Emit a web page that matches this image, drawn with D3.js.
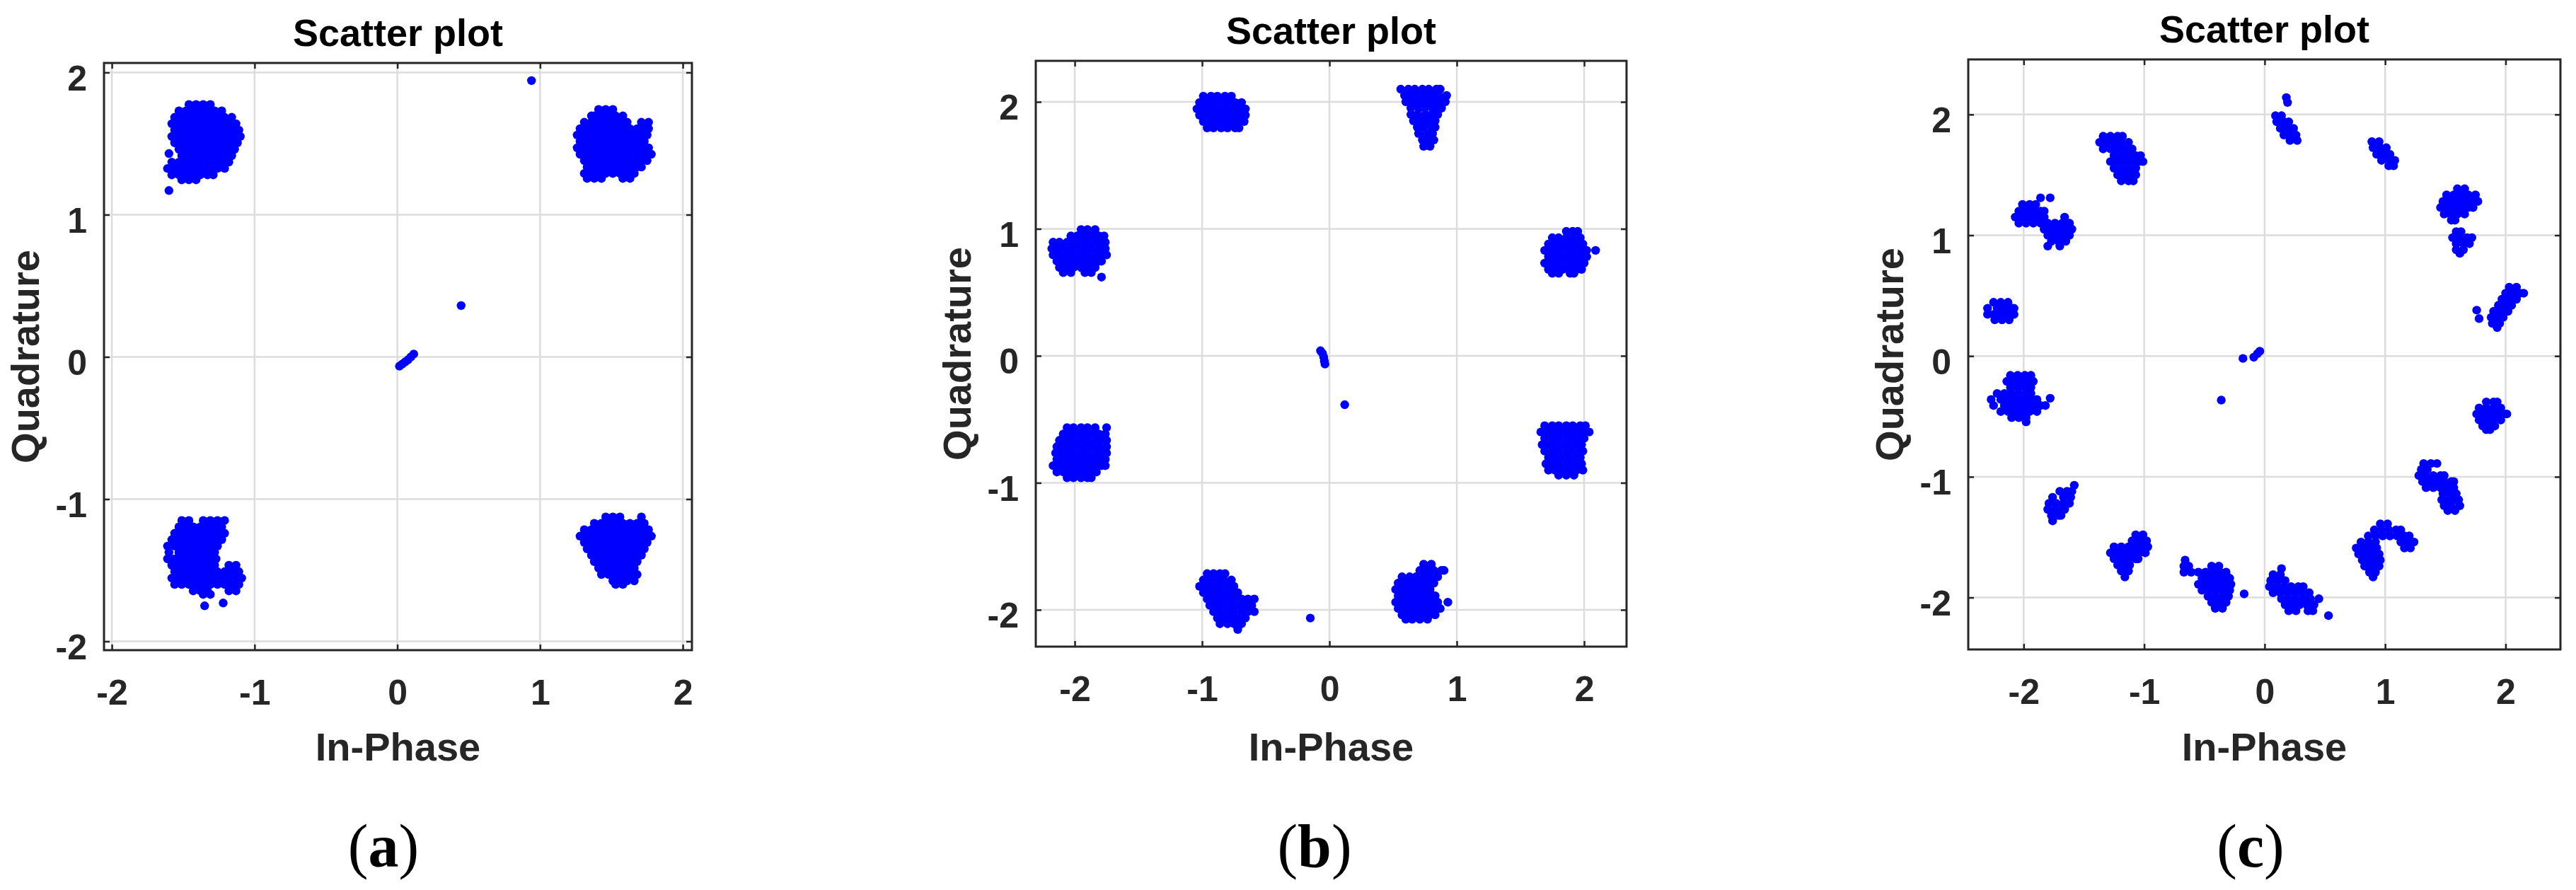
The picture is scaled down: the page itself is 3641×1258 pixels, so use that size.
<!DOCTYPE html>
<html>
<head>
<meta charset="utf-8">
<script src="https://cdn.jsdelivr.net/npm/d3@7"></script>
<style>
  body { margin: 0; background: #fff; }
  svg { display: block; }
</style>
</head>
<body>
<script>
// Constellation scatter plots, three panels.
// Each cluster string: one row per line, "y: x x x ...".

const tick_values = [-2, -1, 0, 1, 2];

// axis limits
const limits_a = {x: [-2.055, 2.064], y: [-2.062, 2.067]};
const limits_b = {x: [-2.306, 2.333], y: [-2.29, 2.323]};
const limits_c = {x: [-2.46, 2.455], y: [-2.43, 2.456]};

const points_a = [
`1.775: -1.46 -1.41 -1.36 -1.31
1.73: -1.53 -1.48 -1.43 -1.38 -1.33 -1.28 -1.23
1.685: -1.56 -1.51 -1.46 -1.41 -1.36 -1.31 -1.26 -1.21 -1.16
1.64: -1.58 -1.53 -1.48 -1.43 -1.38 -1.33 -1.28 -1.23 -1.18 -1.13
1.595: -1.56 -1.51 -1.46 -1.41 -1.36 -1.31 -1.26 -1.21 -1.16 -1.11
1.55: -1.58 -1.53 -1.48 -1.43 -1.38 -1.33 -1.28 -1.23 -1.18 -1.13 -1.10
1.505: -1.56 -1.51 -1.46 -1.41 -1.36 -1.31 -1.26 -1.21 -1.16 -1.12
1.46: -1.53 -1.48 -1.43 -1.38 -1.33 -1.28 -1.23 -1.18 -1.14
1.43: -1.60
1.415: -1.51 -1.46 -1.41 -1.36 -1.31 -1.26 -1.21 -1.16
1.37: -1.58 -1.53 -1.48 -1.43 -1.38 -1.33 -1.28 -1.23 -1.18
1.325: -1.61 -1.56 -1.51 -1.46 -1.41 -1.36 -1.31 -1.26 -1.21
1.28: -1.58 -1.53 -1.48 -1.43 -1.38 -1.33 -1.29
1.245: -1.51 -1.46 -1.41
1.17: -1.60`,
`1.74: 1.41 1.46 1.51
1.695: 1.36 1.38 1.43 1.48 1.53 1.58
1.65: 1.31 1.36 1.41 1.46 1.51 1.56 1.61 1.71 1.76
1.605: 1.28 1.33 1.38 1.43 1.48 1.53 1.58 1.63 1.68 1.73 1.76
1.56: 1.26 1.31 1.36 1.41 1.46 1.51 1.56 1.61 1.66 1.71 1.75
1.515: 1.28 1.33 1.38 1.43 1.48 1.53 1.58 1.63 1.68 1.73
1.47: 1.26 1.31 1.36 1.41 1.46 1.51 1.56 1.61 1.66 1.71 1.76
1.425: 1.28 1.33 1.38 1.43 1.48 1.53 1.58 1.63 1.68 1.73 1.78
1.38: 1.31 1.36 1.41 1.46 1.51 1.56 1.61 1.66 1.71 1.75
1.335: 1.33 1.38 1.43 1.48 1.53 1.58 1.63 1.68 1.71
1.29: 1.31 1.36 1.41 1.46 1.51 1.56 1.61 1.66
1.255: 1.33 1.38 1.43 1.58 1.63`,
`-1.15: -1.51 -1.46 -1.36 -1.31 -1.26 -1.21
-1.195: -1.53 -1.48 -1.43 -1.38 -1.33 -1.28 -1.23
-1.24: -1.56 -1.51 -1.46 -1.41 -1.36 -1.31 -1.26 -1.21
-1.285: -1.58 -1.53 -1.48 -1.43 -1.38 -1.33 -1.28 -1.23
-1.33: -1.61 -1.56 -1.51 -1.46 -1.41 -1.36 -1.31 -1.26
-1.375: -1.60 -1.53 -1.48 -1.43 -1.38 -1.33 -1.28
-1.42: -1.61 -1.56 -1.51 -1.46 -1.41 -1.36 -1.31 -1.27
-1.465: -1.58 -1.53 -1.48 -1.43 -1.38 -1.33 -1.28 -1.18 -1.13
-1.51: -1.56 -1.51 -1.46 -1.41 -1.36 -1.31 -1.26 -1.21 -1.16 -1.11
-1.555: -1.58 -1.53 -1.48 -1.43 -1.38 -1.33 -1.28 -1.23 -1.18 -1.13 -1.09
-1.60: -1.56 -1.51 -1.46 -1.41 -1.36 -1.31 -1.26 -1.21 -1.16 -1.11
-1.645: -1.43 -1.38 -1.33 -1.18 -1.13
-1.67: -1.36 -1.31
-1.73: -1.22
-1.75: -1.35`,
`-1.125: 1.46 1.51 1.56 1.71
-1.17: 1.38 1.43 1.48 1.53 1.58 1.63 1.68 1.73
-1.215: 1.31 1.36 1.41 1.46 1.51 1.56 1.61 1.66 1.71 1.76
-1.26: 1.28 1.33 1.38 1.43 1.48 1.53 1.58 1.63 1.68 1.73 1.78
-1.305: 1.31 1.36 1.41 1.46 1.51 1.56 1.61 1.66 1.71 1.75
-1.35: 1.33 1.38 1.43 1.48 1.53 1.58 1.63 1.68 1.73
-1.395: 1.36 1.41 1.46 1.51 1.56 1.61 1.66 1.71
-1.44: 1.38 1.43 1.48 1.53 1.58 1.63 1.68
-1.485: 1.41 1.46 1.51 1.56 1.61 1.66
-1.53: 1.43 1.48 1.53 1.58 1.63 1.68
-1.575: 1.51 1.56 1.61 1.66
-1.60: 1.53 1.58`,
`1.943: 0.94
0.361: 0.447
-0.065: 0.015
-0.05: 0.035
-0.035: 0.055
-0.02: 0.075
0.0: 0.095
0.02: 0.115`
];

const points_b = [
`2.045: -0.99 -0.93 -0.88 -0.82 -0.77
1.995: -1.02 -0.96 -0.91 -0.85 -0.80 -0.74 -0.69
1.945: -1.04 -0.99 -0.93 -0.88 -0.82 -0.77 -0.71 -0.66
1.895: -1.02 -0.96 -0.91 -0.85 -0.80 -0.74 -0.69 -0.66
1.845: -0.99 -0.93 -0.88 -0.82 -0.77 -0.71 -0.67
1.795: -0.96 -0.91 -0.85 -0.80 -0.74 -0.71`,
`0.995: -1.95 -1.90 -1.84
0.945: -2.03 -1.98 -1.92 -1.87 -1.81 -1.77
0.895: -2.17 -2.12 -2.06 -2.01 -1.95 -1.90 -1.84 -1.79 -1.76
0.845: -2.18 -2.14 -2.09 -2.03 -1.98 -1.92 -1.87 -1.81 -1.76
0.795: -2.17 -2.12 -2.06 -2.01 -1.95 -1.90 -1.84 -1.79 -1.75
0.745: -2.14 -2.09 -2.03 -1.98 -1.92 -1.87 -1.81 -1.79
0.695: -2.12 -2.06 -2.01 -1.95 -1.90 -1.84
0.655: -2.09 -2.03 -1.92 -1.87
0.62: -1.79`,
`-0.565: -2.06 -2.01 -1.95 -1.90 -1.84 -1.75
-0.615: -2.09 -2.03 -1.98 -1.92 -1.87 -1.81 -1.76
-0.665: -2.12 -2.06 -2.01 -1.95 -1.90 -1.84 -1.79 -1.75
-0.715: -2.14 -2.09 -2.03 -1.98 -1.92 -1.87 -1.81 -1.75
-0.765: -2.15 -2.12 -2.06 -2.01 -1.95 -1.90 -1.84 -1.79 -1.75
-0.815: -2.14 -2.09 -2.03 -1.98 -1.92 -1.87 -1.81 -1.76
-0.865: -2.17 -2.12 -2.06 -2.01 -1.95 -1.90 -1.84 -1.79 -1.76
-0.915: -2.14 -2.09 -2.03 -1.98 -1.92 -1.87 -1.83
-0.96: -2.06 -2.01 -1.95 -1.90 -1.87`,
`-1.715: -0.96 -0.91 -0.86 -0.82
-1.765: -0.99 -0.94 -0.88 -0.83 -0.77
-1.815: -1.02 -0.96 -0.91 -0.86 -0.80 -0.75
-1.865: -0.99 -0.94 -0.88 -0.83 -0.77 -0.72
-1.915: -0.96 -0.91 -0.86 -0.80 -0.75 -0.69 -0.64 -0.59
-1.965: -0.94 -0.88 -0.83 -0.77 -0.72 -0.66 -0.61
-2.015: -0.91 -0.86 -0.80 -0.75 -0.69 -0.64 -0.59
-2.065: -0.88 -0.83 -0.77 -0.72 -0.66
-2.11: -0.86 -0.80 -0.75 -0.69
-2.155: -0.72`,
`2.10: 0.56 0.62 0.67 0.73 0.78 0.84 0.87
2.05: 0.59 0.64 0.70 0.75 0.81 0.86 0.92
2.00: 0.60 0.62 0.67 0.73 0.78 0.84 0.89 0.91
1.95: 0.64 0.70 0.75 0.81 0.86 0.88
1.90: 0.64 0.69 0.75 0.80 0.85
1.85: 0.66 0.72 0.77 0.83
1.80: 0.69 0.74 0.80 0.83
1.75: 0.70 0.76 0.81
1.70: 0.73 0.78 0.82
1.65: 0.74 0.79`,
`0.98: 1.86 1.91 1.95
0.93: 1.75 1.80 1.86 1.91 1.97
0.88: 1.72 1.77 1.83 1.88 1.94 1.99
0.83: 1.69 1.75 1.80 1.86 1.91 1.97 2.02 2.09
0.78: 1.72 1.77 1.83 1.88 1.94 1.99 2.02
0.73: 1.69 1.75 1.80 1.86 1.91 1.97 2.00
0.68: 1.72 1.77 1.83 1.88 1.94 1.98
0.65: 1.75 1.80 1.89 1.92`,
`-0.55: 1.69 1.75 1.80 1.86 1.91 1.97 2.01
-0.60: 1.66 1.72 1.77 1.83 1.88 1.94 1.99 2.04
-0.65: 1.69 1.75 1.80 1.86 1.91 1.97 2.00
-0.70: 1.67 1.72 1.77 1.83 1.88 1.94 1.98
-0.75: 1.69 1.75 1.80 1.86 1.91 1.97 1.99
-0.80: 1.72 1.77 1.83 1.88 1.94 1.97
-0.85: 1.70 1.75 1.80 1.86 1.91 1.97 1.98
-0.90: 1.72 1.77 1.83 1.88 1.94 1.99
-0.94: 1.80 1.86 1.92`,
`-1.64: 0.74 0.80
-1.69: 0.71 0.77 0.82 0.88 0.90
-1.74: 0.57 0.63 0.68 0.74 0.79 0.85
-1.79: 0.54 0.60 0.65 0.71 0.76 0.82
-1.84: 0.52 0.57 0.63 0.68 0.74 0.79
-1.89: 0.54 0.60 0.65 0.71 0.76 0.82 0.83
-1.94: 0.52 0.57 0.63 0.68 0.74 0.79 0.85 0.93
-1.99: 0.54 0.60 0.65 0.71 0.76 0.82 0.87
-2.04: 0.57 0.63 0.68 0.74 0.79 0.83
-2.075: 0.60 0.65 0.71 0.77`,
`0.04: -0.07
0.02: -0.055
-0.01: -0.045
-0.04: -0.04
-0.065: -0.035
-0.385: 0.12
-2.065: -0.15`
];

const points_c = [
`1.82: -1.34 -1.28 -1.22 -1.18
1.77: -1.37 -1.31 -1.25 -1.19 -1.13
1.715: -1.34 -1.28 -1.22 -1.16 -1.10
1.66: -1.25 -1.19 -1.13 -1.07 -1.03
1.61: -1.28 -1.22 -1.16 -1.10 -1.04 -1.01
1.555: -1.25 -1.19 -1.13 -1.07
1.50: -1.22 -1.16 -1.10 -1.07
1.45: -1.19 -1.13 -1.09`,
`1.31: -1.86 -1.78
1.255: -2.01 -1.95 -1.90
1.20: -2.04 -1.98 -1.92 -1.86 -1.83
1.15: -2.07 -2.01 -1.95 -1.89 -1.83 -1.66
1.10: -2.04 -1.98 -1.92 -1.86 -1.80 -1.74 -1.68 -1.62
1.05: -1.83 -1.77 -1.71 -1.65 -1.60
1.00: -1.80 -1.74 -1.68 -1.62
0.95: -1.77 -1.71 -1.65
0.91: -1.80 -1.70`,
`0.445: -2.25 -2.19 -2.13
0.395: -2.30 -2.22 -2.16 -2.10 -2.08
0.345: -2.30 -2.25 -2.19 -2.13 -2.08
0.30: -2.24 -2.18 -2.12`,
`-0.16: -2.11 -2.05 -1.99 -1.94
-0.21: -2.14 -2.08 -2.02 -1.96 -1.92
-0.26: -2.11 -2.05 -1.99 -1.94
-0.31: -2.22 -2.16 -2.10 -2.04 -1.98 -1.94
-0.36: -2.27 -2.19 -2.13 -2.07 -2.01 -1.95 -1.89
-0.41: -2.25 -2.16 -2.10 -2.04 -1.98 -1.92 -1.86 -1.82
-0.46: -2.19 -2.13 -2.07 -2.01 -1.95 -1.89
-0.51: -2.10 -2.04 -1.98
-0.545: -1.98
-0.35: -1.78`,
`-1.07: -1.58
-1.12: -1.70 -1.64 -1.60
-1.17: -1.76 -1.67 -1.61
-1.22: -1.79 -1.73 -1.67 -1.62
-1.27: -1.80 -1.74 -1.68 -1.66
-1.32: -1.77 -1.71 -1.69
-1.365: -1.76`,
`-1.48: -1.07 -1.01
-1.53: -1.10 -1.04 -0.98
-1.58: -1.25 -1.19 -1.13 -1.07 -1.01 -0.97
-1.63: -1.28 -1.22 -1.16 -1.10 -1.04 -0.99
-1.68: -1.25 -1.19 -1.13 -1.07 -1.05
-1.73: -1.22 -1.16 -1.12
-1.78: -1.19 -1.13
-1.83: -1.16`,
`-1.69: -0.66
-1.74: -0.67 -0.63 -0.44 -0.38
-1.79: -0.67 -0.61 -0.55 -0.49 -0.43 -0.37 -0.32
-1.84: -0.52 -0.46 -0.40 -0.34 -0.29
-1.89: -0.55 -0.49 -0.43 -0.37 -0.31 -0.28
-1.94: -0.52 -0.46 -0.40 -0.34 -0.29
-1.99: -0.47 -0.41 -0.35 -0.30
-2.04: -0.44 -0.38 -0.32
-2.09: -0.41 -0.35
-1.97: -0.17`,
`2.14: 0.18
2.10: 0.19
1.99: 0.09 0.14
1.94: 0.10 0.16 0.20
1.885: 0.13 0.19 0.24
1.83: 0.16 0.22 0.26
1.785: 0.21 0.27`,
`1.775: 0.89 0.95
1.725: 0.90 0.96 1.01
1.67: 0.93 0.99 1.04
1.62: 0.97 1.03 1.08
1.575: 1.03 1.07`,
`1.385: 1.60 1.66
1.335: 1.51 1.57 1.63 1.69 1.75
1.28: 1.48 1.54 1.60 1.66 1.72 1.77
1.23: 1.46 1.51 1.57 1.63 1.69 1.73
1.175: 1.49 1.54 1.60 1.66
1.125: 1.55 1.58
1.03: 1.59 1.63
0.98: 1.56 1.62 1.68 1.72
0.93: 1.59 1.65 1.70
0.88: 1.59 1.65
0.85: 1.62`,
`0.57: 2.03 2.09
0.52: 2.00 2.06 2.12 2.15
0.47: 1.97 2.03 2.09
0.42: 1.94 2.00 2.05
0.37: 1.90 1.96 2.02
0.38: 1.76
0.32: 1.88 1.93 1.98
0.31: 1.78
0.27: 1.89 1.95
0.235: 1.93`,
`-0.38: 1.84 1.90 1.93
-0.43: 1.78 1.84 1.90 1.96
-0.48: 1.76 1.81 1.87 1.93 1.99 2.01
-0.53: 1.78 1.84 1.90 1.96
-0.58: 1.81 1.87 1.91
-0.61: 1.84 1.87`,
`-0.89: 1.32 1.38 1.43
-0.94: 1.30 1.35
-0.99: 1.28 1.34 1.40 1.46 1.49
-1.04: 1.31 1.37 1.43 1.49 1.55 1.57
-1.09: 1.34 1.40 1.46 1.52 1.57
-1.14: 1.48 1.54 1.59
-1.19: 1.47 1.53 1.59 1.61
-1.24: 1.49 1.55 1.62
-1.28: 1.52 1.58`,
`-1.39: 0.96 1.02
-1.44: 0.91 0.97 1.03 1.09 1.13
-1.49: 0.86 0.92 0.98 1.04 1.10 1.16 1.20
-1.54: 0.80 0.86 0.92 1.13 1.19 1.24
-1.59: 0.76 0.82 0.88 0.93 1.16 1.21
-1.64: 0.78 0.84 0.90 0.95
-1.69: 0.81 0.87 0.93 0.96
-1.74: 0.83 0.89 0.95
-1.79: 0.87 0.92
-1.83: 0.90`,
`-1.76: 0.14
-1.81: 0.07 0.13
-1.86: 0.05 0.11 0.17
-1.91: 0.04 0.10 0.16 0.22 0.28 0.32
-1.96: 0.07 0.13 0.19 0.25 0.31 0.37
-2.01: 0.14 0.20 0.26 0.32 0.38 0.45
-2.06: 0.17 0.23 0.29 0.35 0.41
-2.11: 0.20 0.26 0.36 0.40
-2.15: 0.53`,
`-0.02: -0.18
-0.01: -0.09
0.02: -0.06
0.04: -0.04
-0.365: -0.36`
];

const sub_labels = ['a', 'b', 'c'];
const title_text = 'Scatter plot';
const x_label = 'In-Phase';
const y_label = 'Quadrature';

// layout (pixels) and styles
const width = 3641, height = 1258;
const font = '"Liberation Sans", Arial, Helvetica, sans-serif';
const serif = '"Liberation Serif", "Times New Roman", Times, serif';
const dot_r = 6.2;
const dot_color = '#0000ff';
const grid_color = '#dcdcdc';
const axis_color = '#262626';
const tick_len = 8;

const panels = [
  {box: {left: 147, right: 978, top: 89, bottom: 919}, limits: limits_a, points: points_a, label_x: 542},
  {box: {left: 1464, right: 2299, top: 86, bottom: 914}, limits: limits_b, points: points_b, label_x: 1858},
  {box: {left: 2782, right: 3619, top: 84, bottom: 918}, limits: limits_c, points: points_c, label_x: 3181},
];

function parseRows(txt){
  return txt.trim().split('\n').flatMap(line => {
    const [yv, xs] = line.split(':');
    return xs.trim().split(/\s+/).map(xv => [+xv, +yv]);
  });
}

const svg = d3.select('body').append('svg')
  .attr('width', width)
  .attr('height', height);

svg.append('rect').attr('width', width).attr('height', height).attr('fill', '#fff');

panels.forEach((p, i) => drawPanel(p, sub_labels[i]));

function drawPanel(p, sub){
  const {box} = p;
  const x = d3.scaleLinear().domain(p.limits.x).range([box.left, box.right]);
  const y = d3.scaleLinear().domain(p.limits.y).range([box.bottom, box.top]);
  const g = svg.append('g');

  // grid
  const grid = g.append('g').attr('stroke', grid_color).attr('stroke-width', 2.5);
  grid.selectAll('line.vx').data(tick_values).join('line')
    .attr('class', 'vx')
    .attr('x1', d => x(d)).attr('x2', d => x(d))
    .attr('y1', box.top).attr('y2', box.bottom);
  grid.selectAll('line.hy').data(tick_values).join('line')
    .attr('class', 'hy')
    .attr('x1', box.left).attr('x2', box.right)
    .attr('y1', d => y(d)).attr('y2', d => y(d));

  // samples
  const pts = p.points.flatMap(parseRows);
  g.append('g').selectAll('circle').data(pts).join('circle')
    .attr('cx', d => x(d[0]))
    .attr('cy', d => y(d[1]))
    .attr('r', dot_r)
    .attr('fill', dot_color);

  // axes, ticks point inward on all four sides
  const fmt = d => String(d);
  const bottom = g.append('g').attr('transform', `translate(0,${box.bottom})`)
    .call(d3.axisBottom(x).tickValues(tick_values).tickSizeInner(-tick_len).tickSizeOuter(0).tickFormat(fmt));
  bottom.selectAll('text').attr('y', 77).attr('dy', 0);

  const left = g.append('g').attr('transform', `translate(${box.left},0)`)
    .call(d3.axisLeft(y).tickValues(tick_values).tickSizeInner(-tick_len).tickSizeOuter(0).tickFormat(fmt));
  left.selectAll('text').attr('x', -24).attr('dy', 25);

  g.append('g').attr('transform', `translate(0,${box.top})`)
    .call(d3.axisTop(x).tickValues(tick_values).tickSizeInner(-tick_len).tickSizeOuter(0).tickFormat(''));
  g.append('g').attr('transform', `translate(${box.right},0)`)
    .call(d3.axisRight(y).tickValues(tick_values).tickSizeInner(-tick_len).tickSizeOuter(0).tickFormat(''));

  g.selectAll('.domain').remove();
  g.selectAll('.tick line').attr('stroke', axis_color).attr('stroke-width', 2.5);
  g.selectAll('.tick text')
    .attr('fill', axis_color)
    .style('font-family', font)
    .style('font-weight', 'bold')
    .style('font-size', '50px');

  // frame
  g.append('rect')
    .attr('x', box.left).attr('y', box.top)
    .attr('width', box.right - box.left).attr('height', box.bottom - box.top)
    .attr('fill', 'none').attr('stroke', axis_color).attr('stroke-width', 3);

  const cx = (box.left + box.right) / 2;
  const cy = (box.top + box.bottom) / 2;

  g.append('text')
    .attr('x', cx).attr('y', box.top - 24)
    .attr('text-anchor', 'middle')
    .style('font-family', font).style('font-weight', 'bold').style('font-size', '54px')
    .attr('fill', '#000')
    .text(title_text);

  g.append('text')
    .attr('x', cx).attr('y', 1075)
    .attr('text-anchor', 'middle')
    .style('font-family', font).style('font-weight', 'bold').style('font-size', '56px')
    .attr('fill', axis_color)
    .text(x_label);

  g.append('text')
    .attr('transform', `translate(${box.left - 92},${cy}) rotate(-90)`)
    .attr('text-anchor', 'middle')
    .style('font-family', font).style('font-weight', 'bold').style('font-size', '56px')
    .attr('fill', axis_color)
    .text(y_label);

  // (a) / (b) / (c)
  const lab = g.append('text')
    .attr('x', p.label_x).attr('y', 1225)
    .attr('text-anchor', 'middle')
    .style('font-family', serif).style('font-size', '86px')
    .attr('fill', '#000');
  lab.append('tspan').text('(');
  lab.append('tspan').style('font-weight', 'bold').text(sub);
  lab.append('tspan').text(')');
}
</script>
</body>
</html>
